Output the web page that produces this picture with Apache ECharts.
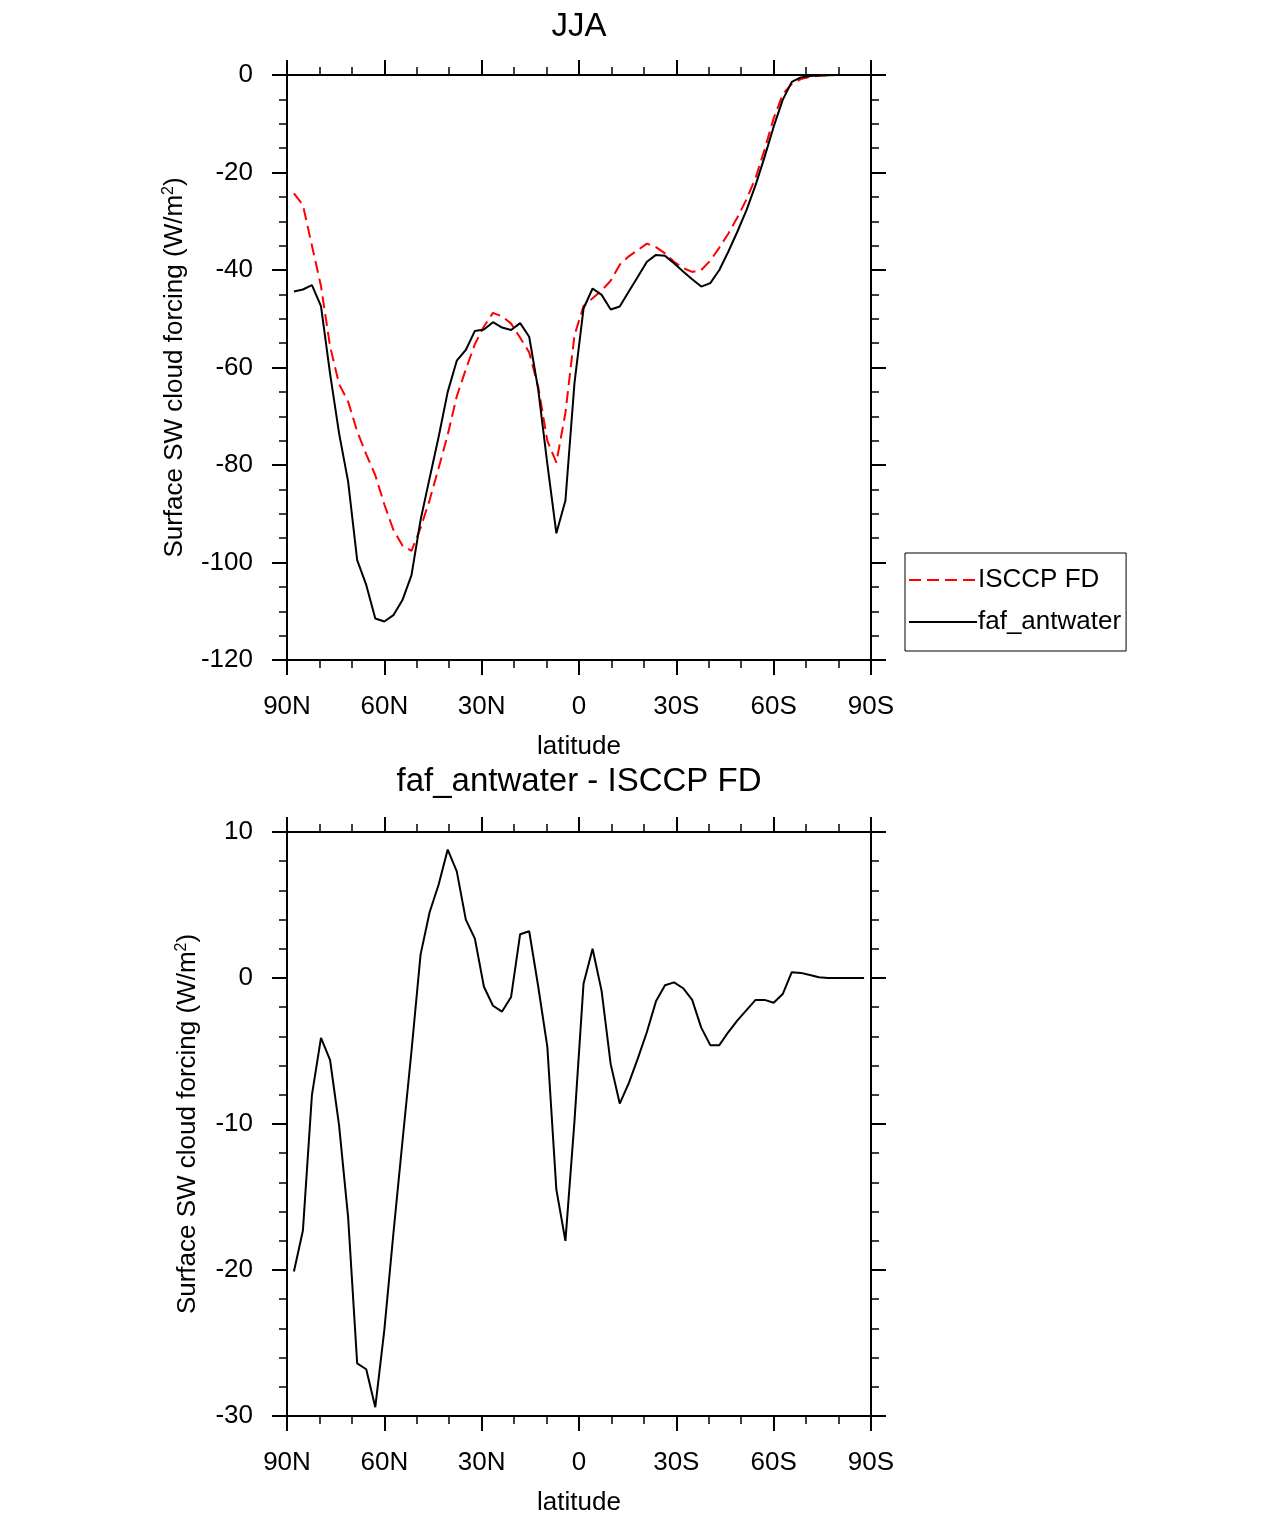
<!DOCTYPE html>
<html><head><meta charset="utf-8">
<script src="https://cdn.jsdelivr.net/npm/echarts@6/dist/echarts.min.js"></script>
<style>html,body{margin:0;padding:0;background:#fff}#c{width:1285px;height:1517px}</style>
</head><body><div id="c"></div>
<script>
// Gaussian latitudes (T42, 64 points), north to south
const latitudes = [87.864,85.097,82.313,79.526,76.737,73.948,71.158,68.368,65.578,62.787,59.997,57.207,54.416,51.626,48.835,46.045,43.254,40.464,37.673,34.883,32.092,29.301,26.511,23.720,20.930,18.139,15.348,12.558,9.767,6.977,4.186,1.395,
 -1.395,-4.186,-6.977,-9.767,-12.558,-15.348,-18.139,-20.930,-23.720,-26.511,-29.301,-32.092,-34.883,-37.673,-40.464,-43.254,-46.045,-48.835,-51.626,-54.416,-57.207,-59.997,-62.787,-65.578,-68.368,-71.158,-73.948,-76.737,-79.526,-82.313,-85.097,-87.864];

const isccpFD = [-24.3,-26.7,-35.0,-43.3,-55.6,-63.4,-67.0,-73.1,-77.8,-82.1,-88.1,-93.3,-96.5,-97.6,-92.9,-87.2,-80.6,-73.8,-65.9,-60.4,-55.2,-51.6,-48.8,-49.5,-51.0,-53.9,-56.9,-64.0,-75.0,-79.5,-69.3,-53.4,
 -47.4,-45.8,-44.2,-42.2,-38.9,-37.2,-35.9,-34.6,-35.3,-36.6,-38.3,-39.6,-40.4,-40.0,-38.1,-35.4,-32.5,-29.2,-25.5,-21.1,-15.3,-8.9,-4.0,-1.8,-0.85,-0.4,-0.15,-0.05,0,0,0,0];

const fafAntwater = [-44.4,-44.0,-43.1,-47.4,-61.2,-73.5,-83.4,-99.5,-104.6,-111.5,-112.1,-110.8,-107.7,-102.6,-91.3,-82.7,-74.2,-65.0,-58.6,-56.4,-52.5,-52.2,-50.7,-51.8,-52.3,-50.9,-53.7,-64.6,-79.7,-94.0,-87.3,-63.2,
 -47.9,-43.8,-45.1,-48.1,-47.5,-44.4,-41.4,-38.3,-36.9,-37.1,-38.6,-40.3,-41.9,-43.4,-42.7,-40.0,-36.2,-32.1,-27.7,-22.6,-16.8,-10.6,-5.1,-1.4,-0.5,-0.2,-0.1,-0.05,0,0,0,0];

const difference = [-20.1,-17.3,-8.0,-4.1,-5.6,-10.1,-16.4,-26.4,-26.8,-29.4,-24.1,-17.5,-11.2,-5.0,1.6,4.5,6.4,8.8,7.3,4.0,2.7,-0.6,-1.9,-2.3,-1.3,3.0,3.2,-0.6,-4.7,-14.5,-18.0,-9.8,
 -0.4,2.0,-0.9,-5.9,-8.6,-7.2,-5.5,-3.7,-1.6,-0.5,-0.3,-0.7,-1.5,-3.4,-4.6,-4.6,-3.7,-2.9,-2.2,-1.5,-1.5,-1.7,-1.1,0.4,0.35,0.2,0.05,0,0,0,0,0];

const latTickLabels = {'90':'90N','60':'60N','30':'30N','0':'0','-30':'30S','-60':'60S','-90':'90S'};
const topTitle = 'JJA';
const bottomTitle = 'faf_antwater - ISCCP FD';
const yName = '{a|Surface SW cloud forcing (W/m}{s|2}{a|)}';
const xName = 'latitude';

const FONT = 'Liberation Sans, Arial, Helvetica, sans-serif';
const FS = 26;
const grids = [
  {left:287, top:75, width:584, height:585},
  {left:287, top:832, width:584, height:585}
];
function xAx(g, pos, main){
  return {
    gridIndex:g, type:'value', min:-90, max:90, interval:30, inverse:true, position:pos,
    axisLine:{show:true, onZero:false, lineStyle:{color:'#000', width:2}},
    axisTick:{show:true, inside:false, length:15, lineStyle:{color:'#000', width:2}},
    minorTick:{show:true, splitNumber:3, length:8, lineStyle:{color:'#000', width:1.5}},
    splitLine:{show:false}, minorSplitLine:{show:false},
    axisLabel:{show:main, margin:34, color:'#000', fontSize:FS, fontFamily:FONT,
      formatter:v=>latTickLabels[String(v)]},
    name: main ? xName : '', nameLocation:'middle', nameGap:74,
    nameTextStyle:{color:'#000', fontSize:FS, fontFamily:FONT}
  };
}
function yAx(g, pos, main, min, max, itv, minor, gap){
  return {
    gridIndex:g, type:'value', min:min, max:max, interval:itv, position:pos,
    axisLine:{show:true, onZero:false, lineStyle:{color:'#000', width:2}},
    axisTick:{show:true, inside:false, length:15, lineStyle:{color:'#000', width:2}},
    minorTick:{show:true, splitNumber:minor, length:8, lineStyle:{color:'#000', width:1.5}},
    splitLine:{show:false}, minorSplitLine:{show:false},
    axisLabel:{show:main, margin:34, color:'#000', fontSize:FS, fontFamily:FONT},
    name: main ? yName : '', nameLocation:'middle', nameGap:gap,
    nameTextStyle:{color:'#000', fontFamily:FONT,
      rich:{a:{fontSize:FS, fontFamily:FONT, color:'#000'}, s:{fontSize:16, fontFamily:FONT, color:'#000', verticalAlign:'top', padding:[0,0,12,0]}}}
  };
}
const chart = echarts.init(document.getElementById('c'), null, {renderer:'canvas'});
chart.setOption({
  animation:false,
  backgroundColor:'#fff',
  title:[
    {text:topTitle, left:579, top:10, padding:0, textAlign:'center', textStyle:{fontSize:33, fontWeight:'normal', color:'#000', fontFamily:FONT}},
    {text:bottomTitle, left:579, top:765, padding:0, textAlign:'center', textStyle:{fontSize:33, fontWeight:'normal', color:'#000', fontFamily:FONT}}
  ],
  legend:{
    orient:'vertical', left:905, top:553, selectedMode:false,
    data:['ISCCP FD','faf_antwater'],
    itemWidth:68, itemHeight:14, itemGap:16,
    itemStyle:{opacity:0},
    padding:[14,5,16,3], borderColor:'#000', borderWidth:1,
    textStyle:{fontSize:FS, color:'#000', fontFamily:FONT, padding:[0,0,0,-4]}
  },
  grid:grids,
  xAxis:[xAx(0,'bottom',true), xAx(0,'top',false), xAx(1,'bottom',true), xAx(1,'top',false)],
  yAxis:[yAx(0,'left',true,-120,0,20,4,98), yAx(0,'right',false,-120,0,20,4,0),
         yAx(1,'left',true,-30,10,10,5,85), yAx(1,'right',false,-30,10,10,5,0)],
  series:[
    {name:'ISCCP FD', type:'line', xAxisIndex:0, yAxisIndex:0, symbol:'none',
     data:latitudes.map((l,i)=>[l,isccpFD[i]]),
     lineStyle:{color:'#ff0000', width:2, type:[12,6]}, itemStyle:{color:'#ff0000'}},
    {name:'faf_antwater', type:'line', xAxisIndex:0, yAxisIndex:0, symbol:'none',
     data:latitudes.map((l,i)=>[l,fafAntwater[i]]),
     lineStyle:{color:'#000', width:2}, itemStyle:{color:'#000'}},
    {name:'faf_antwater - ISCCP FD', type:'line', xAxisIndex:2, yAxisIndex:2, symbol:'none',
     data:latitudes.map((l,i)=>[l,difference[i]]),
     lineStyle:{color:'#000', width:2}, itemStyle:{color:'#000'}}
  ]
});
</script></body></html>
